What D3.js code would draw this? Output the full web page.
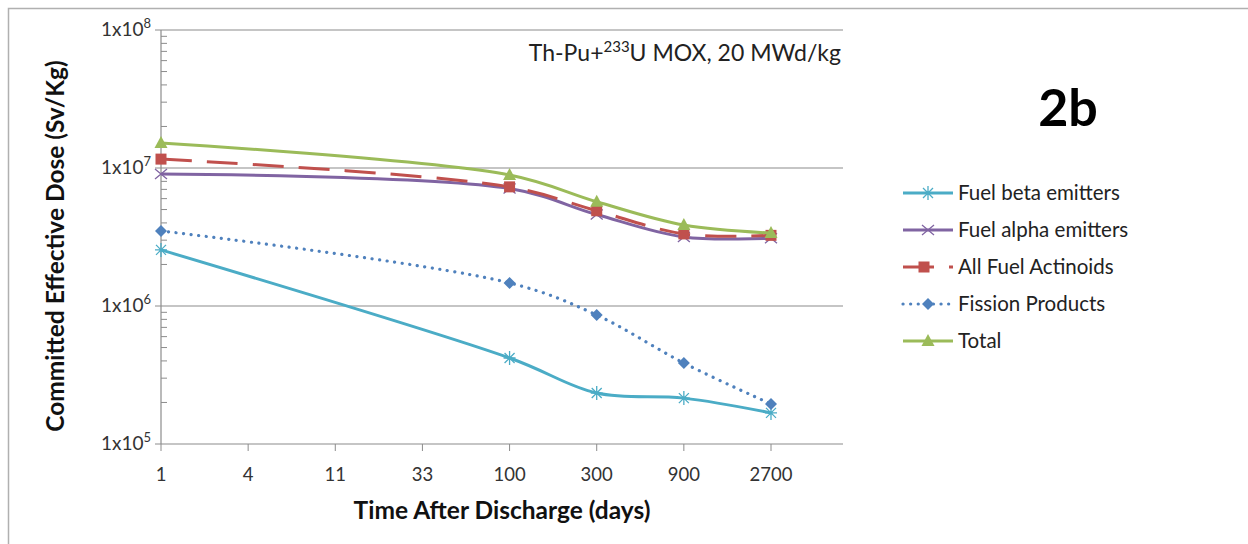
<!DOCTYPE html>
<html>
<head>
<meta charset="utf-8">
<script src="https://cdn.jsdelivr.net/npm/d3@7"></script>
<style>
  body { margin: 0; background: #fff; }
  svg { font-family: Lato, "Open Sans", sans-serif; }
</style>
</head>
<body>
<svg id="chart" width="1248" height="544"></svg>
<script>
// categories on the x axis (evenly spaced)
const times = ['1', '4', '11', '33', '100', '300', '900', '2700'];
const sampleTimes = ['1', '100', '300', '900', '2700'];

const fuelBeta = [2.55e6, 4.2e5, 2.34e5, 2.15e5, 1.68e5];
const fuelAlpha = [9.05e6, 7.1e6, 4.6e6, 3.16e6, 3.1e6];
const actinoids = [1.16e7, 7.3e6, 4.9e6, 3.33e6, 3.25e6];
const fission = [3.5e6, 1.47e6, 8.6e5, 3.86e5, 1.95e5];
const total = [1.52e7, 8.9e6, 5.7e6, 3.86e6, 3.38e6];

const yTicks = [1e5, 1e6, 1e7, 1e8];

const series = [
  { name: 'Fuel beta emitters', values: fuelBeta, color: '#4bacc6', marker: 'star', dash: null },
  { name: 'Fuel alpha emitters', values: fuelAlpha, color: '#8064a2', marker: 'x', dash: null },
  { name: 'All Fuel Actinoids', values: actinoids, color: '#c0504d', marker: 'square', dash: '31,15' },
  { name: 'Fission Products', values: fission, color: '#4f81bd', marker: 'diamond', dash: '0.1,7.5' },
  { name: 'Total', values: total, color: '#9bbb59', marker: 'triangle', dash: null }
];

const svg = d3.select('#chart');

// outer frame
svg.append('rect')
  .attr('x', 8.5).attr('y', 8.5)
  .attr('width', 1300).attr('height', 600)
  .attr('fill', 'none').attr('stroke', '#b0b0b0').attr('stroke-width', 1.5);

const margin = { left: 161, top: 30 };
const width = 682, height = 414;

const g = svg.append('g').attr('transform', `translate(${margin.left},${margin.top})`);

const x = d3.scalePoint().domain(times).range([0, 610]);
const y = d3.scaleLog().domain([1e5, 1e8]).range([height, 0]);

// gridlines
g.selectAll('.grid').data(yTicks).join('line')
  .attr('x1', 0).attr('x2', width)
  .attr('y1', d => y(d)).attr('y2', d => y(d))
  .attr('stroke', '#8c8c8c').attr('stroke-width', 1.2);

// y axis
g.append('line').attr('x1', 0).attr('x2', 0).attr('y1', 0).attr('y2', height)
  .attr('stroke', '#8c8c8c').attr('stroke-width', 1.2);
g.selectAll('.ytick').data(yTicks).join('line')
  .attr('x1', -6).attr('x2', 0)
  .attr('y1', d => y(d)).attr('y2', d => y(d))
  .attr('stroke', '#8c8c8c');

const minor = [];
[1e5, 1e6, 1e7].forEach(dec => { for (let k = 2; k <= 9; k++) minor.push(dec * k); });
g.selectAll('.minor').data(minor).join('line')
  .attr('x1', 0).attr('x2', 6)
  .attr('y1', d => y(d)).attr('y2', d => y(d))
  .attr('stroke', '#8c8c8c');

const ylab = g.selectAll('.ylab').data(yTicks).join('text')
  .attr('x', -10).attr('y', d => y(d) + 6)
  .attr('text-anchor', 'end')
  .attr('font-size', 19).attr('fill', '#333');
ylab.append('tspan').text('1x10');
ylab.append('tspan').attr('dy', -8).attr('font-size', 13).text(d => Math.round(Math.log10(d)));

// x axis ticks and labels
g.selectAll('.xtick').data(times).join('line')
  .attr('x1', d => x(d)).attr('x2', d => x(d))
  .attr('y1', height).attr('y2', height + 7)
  .attr('stroke', '#8c8c8c');
g.selectAll('.xlab').data(times).join('text')
  .attr('x', d => x(d)).attr('y', height + 37)
  .attr('text-anchor', 'middle')
  .attr('font-size', 18.5).attr('fill', '#333')
  .text(d => d);

// axis titles
svg.append('text')
  .attr('transform', 'translate(64,246) rotate(-90)')
  .attr('text-anchor', 'middle')
  .attr('font-size', 24.5).attr('font-weight', 'bold').attr('fill', '#111')
  .text('Committed Effective Dose (Sv/Kg)');
svg.append('text')
  .attr('x', 502).attr('y', 519)
  .attr('text-anchor', 'middle')
  .attr('font-size', 24.5).attr('font-weight', 'bold').attr('fill', '#111')
  .text('Time After Discharge (days)');

// annotation
const ann = svg.append('text')
  .attr('x', 841).attr('y', 61)
  .attr('text-anchor', 'end')
  .attr('font-size', 23).attr('fill', '#222');
ann.append('tspan').text('Th-Pu+');
ann.append('tspan').attr('dy', -9).attr('font-size', 15).text('233');
ann.append('tspan').attr('dy', 9).text('U MOX, 20 MWd/kg');

svg.append('text')
  .attr('x', 1068).attr('y', 126)
  .attr('text-anchor', 'middle')
  .attr('font-size', 52).attr('font-weight', 'bold').attr('fill', '#000')
  .text('2b');

// markers
function drawMarker(sel, type, color) {
  if (type === 'star') {
    sel.append('path').attr('d', 'M-6,0H6M0,-7V7M-5,-5L5,5M-5,5L5,-5')
      .attr('stroke', color).attr('stroke-width', 1.3).attr('fill', 'none');
  } else if (type === 'x') {
    sel.append('path').attr('d', 'M-6,-5L6,5M-6,5L6,-5')
      .attr('stroke', color).attr('stroke-width', 1.3).attr('fill', 'none');
  } else if (type === 'square') {
    sel.append('rect').attr('x', -5.5).attr('y', -5.5).attr('width', 11).attr('height', 11)
      .attr('fill', color);
  } else if (type === 'diamond') {
    sel.append('path').attr('d', 'M0,-6L6,0L0,6L-6,0Z').attr('fill', color);
  } else if (type === 'triangle') {
    sel.append('path').attr('d', 'M0,-7L6.5,5L-6.5,5Z').attr('fill', color);
  }
}

const line = d3.line()
  .x((d, i) => x(sampleTimes[i]))
  .y(d => y(d))
  .curve(d3.curveCatmullRom.alpha(0.5));

series.forEach(s => {
  const p = g.append('path').datum(s.values)
    .attr('fill', 'none').attr('stroke', s.color).attr('stroke-width', 3)
    .attr('d', line);
  if (s.dash) {
    p.attr('stroke-dasharray', s.dash);
    if (s.marker === 'diamond') p.attr('stroke-linecap', 'round').attr('stroke-width', 3.2);
  }
  s.values.forEach((v, i) => {
    const m = g.append('g').attr('transform', `translate(${x(sampleTimes[i])},${y(v)})`);
    drawMarker(m, s.marker, s.color);
  });
});

// legend
const legend = svg.append('g').attr('transform', 'translate(903,193)');
series.forEach((s, i) => {
  const row = legend.append('g').attr('transform', `translate(0,${i * 37})`);
  const l = row.append('line').attr('x1', 0).attr('x2', 50).attr('y1', 0).attr('y2', 0)
    .attr('stroke', s.color).attr('stroke-width', 3);
  if (s.dash) {
    l.attr('stroke-dasharray', s.dash);
    if (s.marker === 'diamond') l.attr('stroke-linecap', 'round').attr('stroke-width', 3.2);
  }
  const m = row.append('g').attr('transform', `translate(${s.marker === 'square' ? 21 : 25},0)`);
  drawMarker(m, s.marker, s.color);
  row.append('text').attr('x', 55).attr('y', 7)
    .attr('font-size', 20.5).attr('fill', '#222')
    .text(s.name);
});
</script>
</body>
</html>
